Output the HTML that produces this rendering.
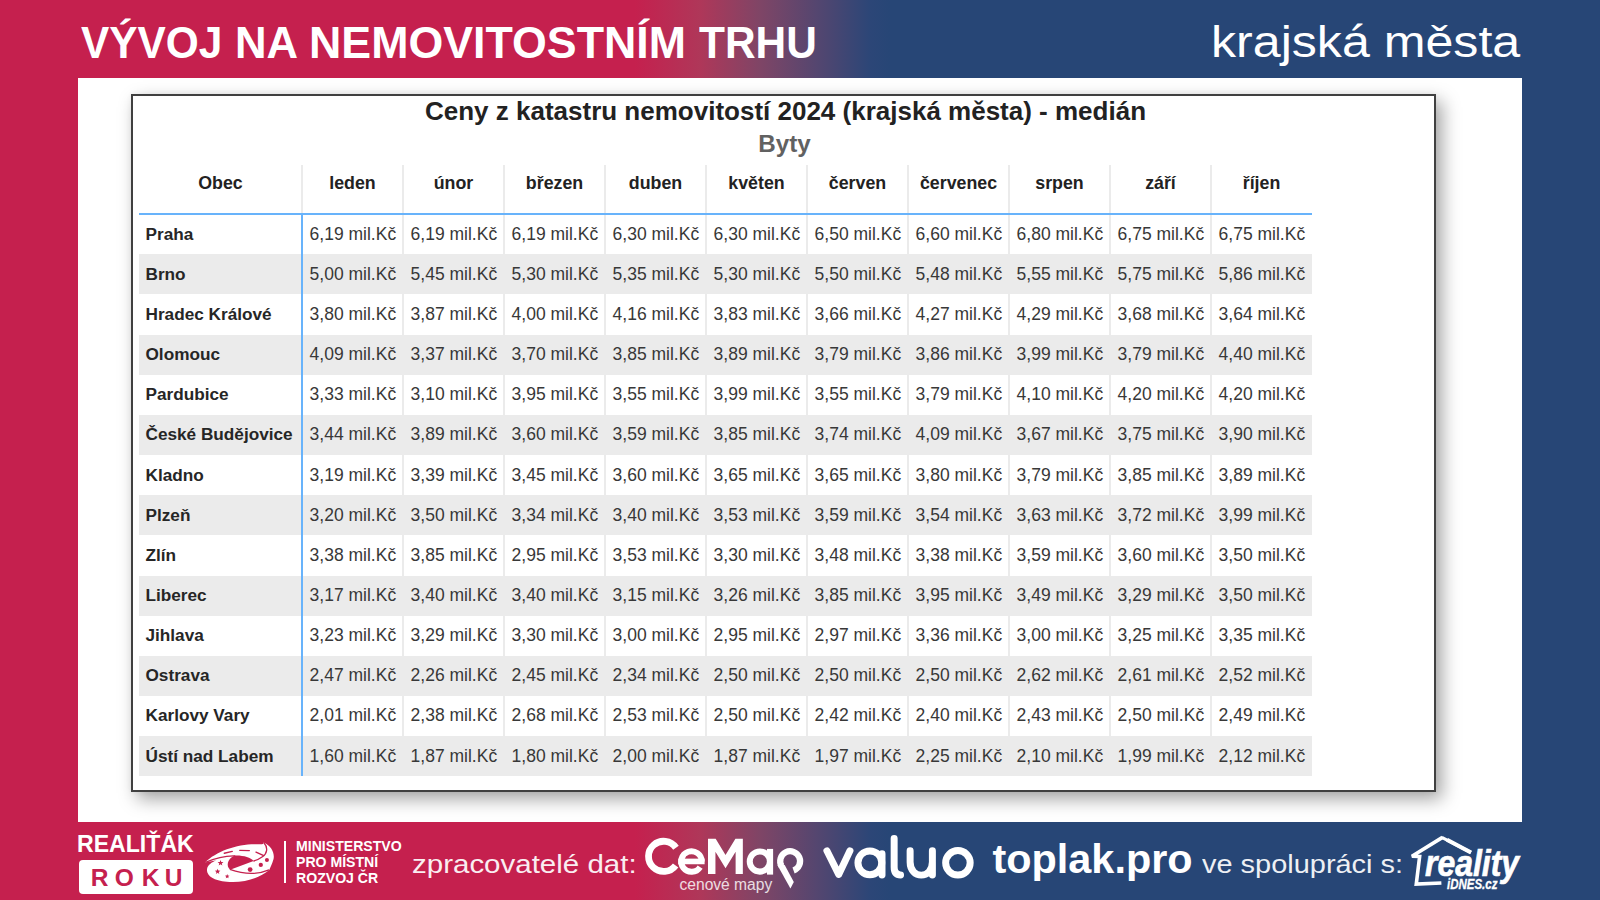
<!DOCTYPE html>
<html lang="cs">
<head>
<meta charset="utf-8">
<title>Vývoj na nemovitostním trhu</title>
<style>
html,body{margin:0;padding:0;}
body{width:1600px;height:900px;overflow:hidden;position:relative;
  background:linear-gradient(90deg,#C5204E 0px,#C5204E 635px,#AF3759 700px,#7F4566 760px,#524670 820px,#2C4677 870px,#274676 890px,#274676 1600px);
  font-family:"Liberation Sans",sans-serif;}
.abs{position:absolute;}
.tw{position:absolute;top:15px;font-weight:bold;font-size:44px;color:#fff;white-space:nowrap;line-height:56px;transform-origin:0 0;}
#sub{position:absolute;left:1210.5px;top:12px;font-size:45px;transform:scaleX(1.114);transform-origin:0 0;color:#fff;white-space:nowrap;line-height:60px;}
#panel{position:absolute;left:78px;top:78px;width:1444px;height:744px;background:#fff;}
#frame{position:absolute;left:131px;top:94px;width:1300.5px;height:693.7px;border:2px solid #333;background:#fff;
  box-shadow:6px 7px 17px rgba(0,0,0,0.36),0 0 5px rgba(0,0,0,0.05);border-color:#404040;}
#ttl{position:absolute;left:133px;width:1305px;top:95px;text-align:center;font-weight:bold;font-size:26px;color:#222;line-height:32px;white-space:nowrap;}
#byty{position:absolute;left:132px;width:1305px;top:129px;text-align:center;font-weight:bold;font-size:24.2px;color:#616161;line-height:30px;}
.rbg{position:absolute;background:#ebebeb;}
.sep{position:absolute;width:2px;background:#ebebeb;}
.blue{position:absolute;background:#68b3fb;}
.hd{position:absolute;text-align:center;font-weight:bold;font-size:17.8px;color:#222;line-height:30px;white-space:nowrap;}
.nm{position:absolute;font-weight:bold;font-size:17.2px;color:#262626;white-space:nowrap;}
.vl{position:absolute;font-size:17.5px;color:#383838;white-space:nowrap;}
.ft{position:absolute;color:#fff;white-space:nowrap;}
.roku{position:absolute;top:861.8px;transform:translateX(-50%);line-height:32px;font-weight:bold;font-size:24.5px;color:#C5204E;}
.roku::before{content:"";}
</style>
</head>
<body>
<div class="tw" style="left:81.25px;transform:scaleX(0.964)">VÝVOJ</div><div class="tw" style="left:234.6px;transform:scaleX(0.993)">NA</div><div class="tw" style="left:308.75px;transform:scaleX(1.017)">NEMOVITOSTNÍM</div><div class="tw" style="left:698.5px;transform:scaleX(0.964)">TRHU</div>
<div id="sub">krajská města</div>
<div id="panel"></div>
<div id="frame"></div>
<div id="ttl">Ceny z katastru nemovitostí 2024 (krajská města) - medián</div>
<div id="byty">Byty</div>
<div class="rbg" style="left:139.0px;top:254.35px;width:1173.00px;height:40.15px"></div>
<div class="rbg" style="left:139.0px;top:334.65px;width:1173.00px;height:40.15px"></div>
<div class="rbg" style="left:139.0px;top:414.95px;width:1173.00px;height:40.15px"></div>
<div class="rbg" style="left:139.0px;top:495.25px;width:1173.00px;height:40.15px"></div>
<div class="rbg" style="left:139.0px;top:575.55px;width:1173.00px;height:40.15px"></div>
<div class="rbg" style="left:139.0px;top:655.85px;width:1173.00px;height:40.15px"></div>
<div class="rbg" style="left:139.0px;top:736.15px;width:1173.00px;height:40.15px"></div>
<div class="sep" style="left:402.00px;top:165.0px;height:611.30px"></div>
<div class="sep" style="left:503.00px;top:165.0px;height:611.30px"></div>
<div class="sep" style="left:604.00px;top:165.0px;height:611.30px"></div>
<div class="sep" style="left:705.00px;top:165.0px;height:611.30px"></div>
<div class="sep" style="left:806.00px;top:165.0px;height:611.30px"></div>
<div class="sep" style="left:907.00px;top:165.0px;height:611.30px"></div>
<div class="sep" style="left:1008.00px;top:165.0px;height:611.30px"></div>
<div class="sep" style="left:1109.00px;top:165.0px;height:611.30px"></div>
<div class="sep" style="left:1210.00px;top:165.0px;height:611.30px"></div>
<div class="sep" style="left:301.00px;top:165.0px;height:49.20px"></div>
<div class="blue" style="left:139.0px;top:213.20px;width:1173.00px;height:2px"></div>
<div class="blue" style="left:301.00px;top:213.20px;width:2px;height:563.10px"></div>
<div class="hd" style="left:139.0px;top:168.10px;width:163.0px">Obec</div>
<div class="hd" style="left:302.00px;top:168.10px;width:101.0px">leden</div>
<div class="hd" style="left:403.00px;top:168.10px;width:101.0px">únor</div>
<div class="hd" style="left:504.00px;top:168.10px;width:101.0px">březen</div>
<div class="hd" style="left:605.00px;top:168.10px;width:101.0px">duben</div>
<div class="hd" style="left:706.00px;top:168.10px;width:101.0px">květen</div>
<div class="hd" style="left:807.00px;top:168.10px;width:101.0px">červen</div>
<div class="hd" style="left:908.00px;top:168.10px;width:101.0px">červenec</div>
<div class="hd" style="left:1009.00px;top:168.10px;width:101.0px">srpen</div>
<div class="hd" style="left:1110.00px;top:168.10px;width:101.0px">září</div>
<div class="hd" style="left:1211.00px;top:168.10px;width:101.0px">říjen</div>
<div class="nm" style="left:145.5px;top:213.60px;height:40.15px;line-height:40.15px">Praha</div>
<div class="vl" style="left:309.60px;top:213.60px;height:40.15px;line-height:40.15px">6,19 mil.Kč</div>
<div class="vl" style="left:410.60px;top:213.60px;height:40.15px;line-height:40.15px">6,19 mil.Kč</div>
<div class="vl" style="left:511.60px;top:213.60px;height:40.15px;line-height:40.15px">6,19 mil.Kč</div>
<div class="vl" style="left:612.60px;top:213.60px;height:40.15px;line-height:40.15px">6,30 mil.Kč</div>
<div class="vl" style="left:713.60px;top:213.60px;height:40.15px;line-height:40.15px">6,30 mil.Kč</div>
<div class="vl" style="left:814.60px;top:213.60px;height:40.15px;line-height:40.15px">6,50 mil.Kč</div>
<div class="vl" style="left:915.60px;top:213.60px;height:40.15px;line-height:40.15px">6,60 mil.Kč</div>
<div class="vl" style="left:1016.60px;top:213.60px;height:40.15px;line-height:40.15px">6,80 mil.Kč</div>
<div class="vl" style="left:1117.60px;top:213.60px;height:40.15px;line-height:40.15px">6,75 mil.Kč</div>
<div class="vl" style="left:1218.60px;top:213.60px;height:40.15px;line-height:40.15px">6,75 mil.Kč</div>
<div class="nm" style="left:145.5px;top:253.75px;height:40.15px;line-height:40.15px">Brno</div>
<div class="vl" style="left:309.60px;top:253.75px;height:40.15px;line-height:40.15px">5,00 mil.Kč</div>
<div class="vl" style="left:410.60px;top:253.75px;height:40.15px;line-height:40.15px">5,45 mil.Kč</div>
<div class="vl" style="left:511.60px;top:253.75px;height:40.15px;line-height:40.15px">5,30 mil.Kč</div>
<div class="vl" style="left:612.60px;top:253.75px;height:40.15px;line-height:40.15px">5,35 mil.Kč</div>
<div class="vl" style="left:713.60px;top:253.75px;height:40.15px;line-height:40.15px">5,30 mil.Kč</div>
<div class="vl" style="left:814.60px;top:253.75px;height:40.15px;line-height:40.15px">5,50 mil.Kč</div>
<div class="vl" style="left:915.60px;top:253.75px;height:40.15px;line-height:40.15px">5,48 mil.Kč</div>
<div class="vl" style="left:1016.60px;top:253.75px;height:40.15px;line-height:40.15px">5,55 mil.Kč</div>
<div class="vl" style="left:1117.60px;top:253.75px;height:40.15px;line-height:40.15px">5,75 mil.Kč</div>
<div class="vl" style="left:1218.60px;top:253.75px;height:40.15px;line-height:40.15px">5,86 mil.Kč</div>
<div class="nm" style="left:145.5px;top:293.90px;height:40.15px;line-height:40.15px">Hradec Králové</div>
<div class="vl" style="left:309.60px;top:293.90px;height:40.15px;line-height:40.15px">3,80 mil.Kč</div>
<div class="vl" style="left:410.60px;top:293.90px;height:40.15px;line-height:40.15px">3,87 mil.Kč</div>
<div class="vl" style="left:511.60px;top:293.90px;height:40.15px;line-height:40.15px">4,00 mil.Kč</div>
<div class="vl" style="left:612.60px;top:293.90px;height:40.15px;line-height:40.15px">4,16 mil.Kč</div>
<div class="vl" style="left:713.60px;top:293.90px;height:40.15px;line-height:40.15px">3,83 mil.Kč</div>
<div class="vl" style="left:814.60px;top:293.90px;height:40.15px;line-height:40.15px">3,66 mil.Kč</div>
<div class="vl" style="left:915.60px;top:293.90px;height:40.15px;line-height:40.15px">4,27 mil.Kč</div>
<div class="vl" style="left:1016.60px;top:293.90px;height:40.15px;line-height:40.15px">4,29 mil.Kč</div>
<div class="vl" style="left:1117.60px;top:293.90px;height:40.15px;line-height:40.15px">3,68 mil.Kč</div>
<div class="vl" style="left:1218.60px;top:293.90px;height:40.15px;line-height:40.15px">3,64 mil.Kč</div>
<div class="nm" style="left:145.5px;top:334.05px;height:40.15px;line-height:40.15px">Olomouc</div>
<div class="vl" style="left:309.60px;top:334.05px;height:40.15px;line-height:40.15px">4,09 mil.Kč</div>
<div class="vl" style="left:410.60px;top:334.05px;height:40.15px;line-height:40.15px">3,37 mil.Kč</div>
<div class="vl" style="left:511.60px;top:334.05px;height:40.15px;line-height:40.15px">3,70 mil.Kč</div>
<div class="vl" style="left:612.60px;top:334.05px;height:40.15px;line-height:40.15px">3,85 mil.Kč</div>
<div class="vl" style="left:713.60px;top:334.05px;height:40.15px;line-height:40.15px">3,89 mil.Kč</div>
<div class="vl" style="left:814.60px;top:334.05px;height:40.15px;line-height:40.15px">3,79 mil.Kč</div>
<div class="vl" style="left:915.60px;top:334.05px;height:40.15px;line-height:40.15px">3,86 mil.Kč</div>
<div class="vl" style="left:1016.60px;top:334.05px;height:40.15px;line-height:40.15px">3,99 mil.Kč</div>
<div class="vl" style="left:1117.60px;top:334.05px;height:40.15px;line-height:40.15px">3,79 mil.Kč</div>
<div class="vl" style="left:1218.60px;top:334.05px;height:40.15px;line-height:40.15px">4,40 mil.Kč</div>
<div class="nm" style="left:145.5px;top:374.20px;height:40.15px;line-height:40.15px">Pardubice</div>
<div class="vl" style="left:309.60px;top:374.20px;height:40.15px;line-height:40.15px">3,33 mil.Kč</div>
<div class="vl" style="left:410.60px;top:374.20px;height:40.15px;line-height:40.15px">3,10 mil.Kč</div>
<div class="vl" style="left:511.60px;top:374.20px;height:40.15px;line-height:40.15px">3,95 mil.Kč</div>
<div class="vl" style="left:612.60px;top:374.20px;height:40.15px;line-height:40.15px">3,55 mil.Kč</div>
<div class="vl" style="left:713.60px;top:374.20px;height:40.15px;line-height:40.15px">3,99 mil.Kč</div>
<div class="vl" style="left:814.60px;top:374.20px;height:40.15px;line-height:40.15px">3,55 mil.Kč</div>
<div class="vl" style="left:915.60px;top:374.20px;height:40.15px;line-height:40.15px">3,79 mil.Kč</div>
<div class="vl" style="left:1016.60px;top:374.20px;height:40.15px;line-height:40.15px">4,10 mil.Kč</div>
<div class="vl" style="left:1117.60px;top:374.20px;height:40.15px;line-height:40.15px">4,20 mil.Kč</div>
<div class="vl" style="left:1218.60px;top:374.20px;height:40.15px;line-height:40.15px">4,20 mil.Kč</div>
<div class="nm" style="left:145.5px;top:414.35px;height:40.15px;line-height:40.15px">České Budějovice</div>
<div class="vl" style="left:309.60px;top:414.35px;height:40.15px;line-height:40.15px">3,44 mil.Kč</div>
<div class="vl" style="left:410.60px;top:414.35px;height:40.15px;line-height:40.15px">3,89 mil.Kč</div>
<div class="vl" style="left:511.60px;top:414.35px;height:40.15px;line-height:40.15px">3,60 mil.Kč</div>
<div class="vl" style="left:612.60px;top:414.35px;height:40.15px;line-height:40.15px">3,59 mil.Kč</div>
<div class="vl" style="left:713.60px;top:414.35px;height:40.15px;line-height:40.15px">3,85 mil.Kč</div>
<div class="vl" style="left:814.60px;top:414.35px;height:40.15px;line-height:40.15px">3,74 mil.Kč</div>
<div class="vl" style="left:915.60px;top:414.35px;height:40.15px;line-height:40.15px">4,09 mil.Kč</div>
<div class="vl" style="left:1016.60px;top:414.35px;height:40.15px;line-height:40.15px">3,67 mil.Kč</div>
<div class="vl" style="left:1117.60px;top:414.35px;height:40.15px;line-height:40.15px">3,75 mil.Kč</div>
<div class="vl" style="left:1218.60px;top:414.35px;height:40.15px;line-height:40.15px">3,90 mil.Kč</div>
<div class="nm" style="left:145.5px;top:454.50px;height:40.15px;line-height:40.15px">Kladno</div>
<div class="vl" style="left:309.60px;top:454.50px;height:40.15px;line-height:40.15px">3,19 mil.Kč</div>
<div class="vl" style="left:410.60px;top:454.50px;height:40.15px;line-height:40.15px">3,39 mil.Kč</div>
<div class="vl" style="left:511.60px;top:454.50px;height:40.15px;line-height:40.15px">3,45 mil.Kč</div>
<div class="vl" style="left:612.60px;top:454.50px;height:40.15px;line-height:40.15px">3,60 mil.Kč</div>
<div class="vl" style="left:713.60px;top:454.50px;height:40.15px;line-height:40.15px">3,65 mil.Kč</div>
<div class="vl" style="left:814.60px;top:454.50px;height:40.15px;line-height:40.15px">3,65 mil.Kč</div>
<div class="vl" style="left:915.60px;top:454.50px;height:40.15px;line-height:40.15px">3,80 mil.Kč</div>
<div class="vl" style="left:1016.60px;top:454.50px;height:40.15px;line-height:40.15px">3,79 mil.Kč</div>
<div class="vl" style="left:1117.60px;top:454.50px;height:40.15px;line-height:40.15px">3,85 mil.Kč</div>
<div class="vl" style="left:1218.60px;top:454.50px;height:40.15px;line-height:40.15px">3,89 mil.Kč</div>
<div class="nm" style="left:145.5px;top:494.65px;height:40.15px;line-height:40.15px">Plzeň</div>
<div class="vl" style="left:309.60px;top:494.65px;height:40.15px;line-height:40.15px">3,20 mil.Kč</div>
<div class="vl" style="left:410.60px;top:494.65px;height:40.15px;line-height:40.15px">3,50 mil.Kč</div>
<div class="vl" style="left:511.60px;top:494.65px;height:40.15px;line-height:40.15px">3,34 mil.Kč</div>
<div class="vl" style="left:612.60px;top:494.65px;height:40.15px;line-height:40.15px">3,40 mil.Kč</div>
<div class="vl" style="left:713.60px;top:494.65px;height:40.15px;line-height:40.15px">3,53 mil.Kč</div>
<div class="vl" style="left:814.60px;top:494.65px;height:40.15px;line-height:40.15px">3,59 mil.Kč</div>
<div class="vl" style="left:915.60px;top:494.65px;height:40.15px;line-height:40.15px">3,54 mil.Kč</div>
<div class="vl" style="left:1016.60px;top:494.65px;height:40.15px;line-height:40.15px">3,63 mil.Kč</div>
<div class="vl" style="left:1117.60px;top:494.65px;height:40.15px;line-height:40.15px">3,72 mil.Kč</div>
<div class="vl" style="left:1218.60px;top:494.65px;height:40.15px;line-height:40.15px">3,99 mil.Kč</div>
<div class="nm" style="left:145.5px;top:534.80px;height:40.15px;line-height:40.15px">Zlín</div>
<div class="vl" style="left:309.60px;top:534.80px;height:40.15px;line-height:40.15px">3,38 mil.Kč</div>
<div class="vl" style="left:410.60px;top:534.80px;height:40.15px;line-height:40.15px">3,85 mil.Kč</div>
<div class="vl" style="left:511.60px;top:534.80px;height:40.15px;line-height:40.15px">2,95 mil.Kč</div>
<div class="vl" style="left:612.60px;top:534.80px;height:40.15px;line-height:40.15px">3,53 mil.Kč</div>
<div class="vl" style="left:713.60px;top:534.80px;height:40.15px;line-height:40.15px">3,30 mil.Kč</div>
<div class="vl" style="left:814.60px;top:534.80px;height:40.15px;line-height:40.15px">3,48 mil.Kč</div>
<div class="vl" style="left:915.60px;top:534.80px;height:40.15px;line-height:40.15px">3,38 mil.Kč</div>
<div class="vl" style="left:1016.60px;top:534.80px;height:40.15px;line-height:40.15px">3,59 mil.Kč</div>
<div class="vl" style="left:1117.60px;top:534.80px;height:40.15px;line-height:40.15px">3,60 mil.Kč</div>
<div class="vl" style="left:1218.60px;top:534.80px;height:40.15px;line-height:40.15px">3,50 mil.Kč</div>
<div class="nm" style="left:145.5px;top:574.95px;height:40.15px;line-height:40.15px">Liberec</div>
<div class="vl" style="left:309.60px;top:574.95px;height:40.15px;line-height:40.15px">3,17 mil.Kč</div>
<div class="vl" style="left:410.60px;top:574.95px;height:40.15px;line-height:40.15px">3,40 mil.Kč</div>
<div class="vl" style="left:511.60px;top:574.95px;height:40.15px;line-height:40.15px">3,40 mil.Kč</div>
<div class="vl" style="left:612.60px;top:574.95px;height:40.15px;line-height:40.15px">3,15 mil.Kč</div>
<div class="vl" style="left:713.60px;top:574.95px;height:40.15px;line-height:40.15px">3,26 mil.Kč</div>
<div class="vl" style="left:814.60px;top:574.95px;height:40.15px;line-height:40.15px">3,85 mil.Kč</div>
<div class="vl" style="left:915.60px;top:574.95px;height:40.15px;line-height:40.15px">3,95 mil.Kč</div>
<div class="vl" style="left:1016.60px;top:574.95px;height:40.15px;line-height:40.15px">3,49 mil.Kč</div>
<div class="vl" style="left:1117.60px;top:574.95px;height:40.15px;line-height:40.15px">3,29 mil.Kč</div>
<div class="vl" style="left:1218.60px;top:574.95px;height:40.15px;line-height:40.15px">3,50 mil.Kč</div>
<div class="nm" style="left:145.5px;top:615.10px;height:40.15px;line-height:40.15px">Jihlava</div>
<div class="vl" style="left:309.60px;top:615.10px;height:40.15px;line-height:40.15px">3,23 mil.Kč</div>
<div class="vl" style="left:410.60px;top:615.10px;height:40.15px;line-height:40.15px">3,29 mil.Kč</div>
<div class="vl" style="left:511.60px;top:615.10px;height:40.15px;line-height:40.15px">3,30 mil.Kč</div>
<div class="vl" style="left:612.60px;top:615.10px;height:40.15px;line-height:40.15px">3,00 mil.Kč</div>
<div class="vl" style="left:713.60px;top:615.10px;height:40.15px;line-height:40.15px">2,95 mil.Kč</div>
<div class="vl" style="left:814.60px;top:615.10px;height:40.15px;line-height:40.15px">2,97 mil.Kč</div>
<div class="vl" style="left:915.60px;top:615.10px;height:40.15px;line-height:40.15px">3,36 mil.Kč</div>
<div class="vl" style="left:1016.60px;top:615.10px;height:40.15px;line-height:40.15px">3,00 mil.Kč</div>
<div class="vl" style="left:1117.60px;top:615.10px;height:40.15px;line-height:40.15px">3,25 mil.Kč</div>
<div class="vl" style="left:1218.60px;top:615.10px;height:40.15px;line-height:40.15px">3,35 mil.Kč</div>
<div class="nm" style="left:145.5px;top:655.25px;height:40.15px;line-height:40.15px">Ostrava</div>
<div class="vl" style="left:309.60px;top:655.25px;height:40.15px;line-height:40.15px">2,47 mil.Kč</div>
<div class="vl" style="left:410.60px;top:655.25px;height:40.15px;line-height:40.15px">2,26 mil.Kč</div>
<div class="vl" style="left:511.60px;top:655.25px;height:40.15px;line-height:40.15px">2,45 mil.Kč</div>
<div class="vl" style="left:612.60px;top:655.25px;height:40.15px;line-height:40.15px">2,34 mil.Kč</div>
<div class="vl" style="left:713.60px;top:655.25px;height:40.15px;line-height:40.15px">2,50 mil.Kč</div>
<div class="vl" style="left:814.60px;top:655.25px;height:40.15px;line-height:40.15px">2,50 mil.Kč</div>
<div class="vl" style="left:915.60px;top:655.25px;height:40.15px;line-height:40.15px">2,50 mil.Kč</div>
<div class="vl" style="left:1016.60px;top:655.25px;height:40.15px;line-height:40.15px">2,62 mil.Kč</div>
<div class="vl" style="left:1117.60px;top:655.25px;height:40.15px;line-height:40.15px">2,61 mil.Kč</div>
<div class="vl" style="left:1218.60px;top:655.25px;height:40.15px;line-height:40.15px">2,52 mil.Kč</div>
<div class="nm" style="left:145.5px;top:695.40px;height:40.15px;line-height:40.15px">Karlovy Vary</div>
<div class="vl" style="left:309.60px;top:695.40px;height:40.15px;line-height:40.15px">2,01 mil.Kč</div>
<div class="vl" style="left:410.60px;top:695.40px;height:40.15px;line-height:40.15px">2,38 mil.Kč</div>
<div class="vl" style="left:511.60px;top:695.40px;height:40.15px;line-height:40.15px">2,68 mil.Kč</div>
<div class="vl" style="left:612.60px;top:695.40px;height:40.15px;line-height:40.15px">2,53 mil.Kč</div>
<div class="vl" style="left:713.60px;top:695.40px;height:40.15px;line-height:40.15px">2,50 mil.Kč</div>
<div class="vl" style="left:814.60px;top:695.40px;height:40.15px;line-height:40.15px">2,42 mil.Kč</div>
<div class="vl" style="left:915.60px;top:695.40px;height:40.15px;line-height:40.15px">2,40 mil.Kč</div>
<div class="vl" style="left:1016.60px;top:695.40px;height:40.15px;line-height:40.15px">2,43 mil.Kč</div>
<div class="vl" style="left:1117.60px;top:695.40px;height:40.15px;line-height:40.15px">2,50 mil.Kč</div>
<div class="vl" style="left:1218.60px;top:695.40px;height:40.15px;line-height:40.15px">2,49 mil.Kč</div>
<div class="nm" style="left:145.5px;top:735.55px;height:40.15px;line-height:40.15px">Ústí nad Labem</div>
<div class="vl" style="left:309.60px;top:735.55px;height:40.15px;line-height:40.15px">1,60 mil.Kč</div>
<div class="vl" style="left:410.60px;top:735.55px;height:40.15px;line-height:40.15px">1,87 mil.Kč</div>
<div class="vl" style="left:511.60px;top:735.55px;height:40.15px;line-height:40.15px">1,80 mil.Kč</div>
<div class="vl" style="left:612.60px;top:735.55px;height:40.15px;line-height:40.15px">2,00 mil.Kč</div>
<div class="vl" style="left:713.60px;top:735.55px;height:40.15px;line-height:40.15px">1,87 mil.Kč</div>
<div class="vl" style="left:814.60px;top:735.55px;height:40.15px;line-height:40.15px">1,97 mil.Kč</div>
<div class="vl" style="left:915.60px;top:735.55px;height:40.15px;line-height:40.15px">2,25 mil.Kč</div>
<div class="vl" style="left:1016.60px;top:735.55px;height:40.15px;line-height:40.15px">2,10 mil.Kč</div>
<div class="vl" style="left:1117.60px;top:735.55px;height:40.15px;line-height:40.15px">1,99 mil.Kč</div>
<div class="vl" style="left:1218.60px;top:735.55px;height:40.15px;line-height:40.15px">2,12 mil.Kč</div>
<!-- footer -->
<div class="ft" style="left:77px;top:828.5px;font-weight:bold;font-size:23.1px;line-height:30px;">REALIŤÁK</div>
<div class="abs" style="left:79.3px;top:859.6px;width:113.7px;height:34px;background:#fff;border-radius:4px;"></div>
<div class="roku" style="left:99.6px">R</div><div class="roku" style="left:124.4px">O</div><div class="roku" style="left:150.6px">K</div><div class="roku" style="left:173.7px">U</div>
<svg class="abs" style="left:200px;top:838px" width="80" height="48" viewBox="0 0 1500 900">
 <path fill="#fff" d="M95 460 C 300 250, 700 108, 1060 116 C 1150 120, 1190 128, 1195 84 C 1340 150, 1405 280, 1378 400 C 1352 500, 1312 560, 1298 602 C 1100 765, 800 845, 500 818 C 250 795, 112 700, 132 580 C 145 510, 215 455, 310 418 Z"/>
 <g fill="#C5204E">
  <path d="M650 330 C 800 322, 950 365, 1005 432 L 565 594 C 490 540, 500 400, 650 330 Z"/>
  <path d="M385.0 412.0 L 399.3 450.3 L 440.2 452.1 L 408.2 477.5 L 419.1 516.9 L 385.0 494.4 L 350.9 516.9 L 361.8 477.5 L 329.8 452.1 L 370.7 450.3 Z"/><path d="M330.0 575.0 L 343.6 611.3 L 382.3 613.0 L 352.0 637.1 L 362.3 674.5 L 330.0 653.1 L 297.7 674.5 L 308.0 637.1 L 277.7 613.0 L 316.4 611.3 Z"/><path d="M510.0 675.0 L 521.1 704.7 L 552.8 706.1 L 528.0 725.8 L 536.5 756.4 L 510.0 738.9 L 483.5 756.4 L 492.0 725.8 L 467.2 706.1 L 498.9 704.7 Z"/>
  <circle cx="1255" cy="412" r="38"/><circle cx="1140" cy="505" r="40"/><circle cx="940" cy="592" r="45"/>
 </g>
 <g fill="none" stroke="#C5204E" stroke-width="24">
  <path d="M100 458 C 300 370, 500 330, 660 335"/>
  <path d="M1198 90 C 1280 180, 1262 290, 1170 350 C 1100 400, 1050 420, 1000 432"/>
  <path d="M1295 598 C 1100 680, 850 690, 560 590"/>
 </g>
 <g fill="none" stroke="#C5204E" stroke-width="26" stroke-linecap="round">
  <path d="M455 285 L 605 252"/><path d="M745 232 L 925 236"/><path d="M1050 265 L 1185 328"/>
 </g>
</svg>
<div class="abs" style="left:284px;top:841px;width:2px;height:42px;background:#fff;"></div>
<div class="ft" style="left:296px;top:837.8px;font-weight:bold;font-size:14.1px;line-height:16px;">MINISTERSTVO<br>PRO MÍSTNÍ<br>ROZVOJ ČR</div>
<div class="ft" style="left:412px;top:845.6px;font-size:26.5px;line-height:36px;transform:scaleX(1.113);transform-origin:0 0;opacity:0.92;">zpracovatelé dat:</div>
<svg class="abs" style="left:640px;top:830px" width="170" height="65" viewBox="0 0 1600 612">
 <g fill="none" stroke="#fff">
  <path d="M338.3 166.6 A 142 142 0 1 0 335.4 333.5" stroke-width="64"/>
  <path d="M360 296 L 608 296" stroke-width="53"/>
  <path d="M581.6 296.4 A 97 97 0 1 0 566 349.3" stroke-width="56"/>
  <circle cx="1128" cy="297" r="95" stroke-width="57"/>
  <path d="M1224 178 L 1224 420" stroke-width="58"/>
  <path d="M1445.4 381.6 A 93.6 93.6 0 1 0 1332.3 340.4" stroke-width="59"/>
 </g>
 <g fill="#fff">
  <path d="M640 82 L 712 82 L 805 235 L 898 82 L 968 82 L 968 415 L 900 415 L 900 204 L 805 360 L 710 204 L 710 415 L 640 415 Z"/>
  <path d="M1293 330 L 1362 330 L 1448 490 L 1416 550 Z"/>
 </g>
</svg>
<div class="ft" style="left:679.5px;top:874.5px;font-size:15.6px;line-height:20px;opacity:0.82;">cenové mapy</div>
<svg class="abs" style="left:810px;top:830px" width="180" height="65" viewBox="0 0 1600 578">
 <g fill="none" stroke="#fff" stroke-width="62" stroke-linecap="round" stroke-linejoin="round">
  <path d="M150 185 L 255 395 L 355 185"/>
  <circle cx="532" cy="292" r="106"/>
  <path d="M640 212 L 640 400"/>
  <path d="M748 75 L 748 330 Q 748 400 805 400"/>
  <path d="M890 185 L 890 285 C 890 440 1088 440 1088 285 M 1088 185 L 1088 400"/>
  <circle cx="1315" cy="292" r="109"/>
 </g>
</svg>
<div class="ft" style="left:992.5px;top:834px;font-weight:bold;font-size:41.4px;line-height:50px;">toplak.pro</div>
<div class="ft" style="left:1202px;top:845.6px;font-size:26.5px;line-height:36px;transform:scaleX(1.092);transform-origin:0 0;opacity:0.92;">ve spolupráci s:</div>
<svg class="abs" style="left:1405px;top:830px" width="120" height="65" viewBox="0 0 1600 867">
 <g fill="none" stroke="#fff" stroke-width="48">
  <path d="M490 98 L 880 300" stroke-width="42"/>
  <path d="M880 300 L 560 130" stroke-width="55"/>
  <path d="M500 98 L 92 350 L 195 352 L 150 722 L 485 706" stroke-linejoin="miter" stroke-miterlimit="2"/>
 </g>
</svg>
<div class="ft" style="left:1424.5px;top:841px;font-weight:bold;font-style:italic;font-size:37.6px;line-height:44px;transform:scaleX(0.85);transform-origin:0 0;-webkit-text-stroke:0.7px #fff;">reality</div>
<div class="ft" style="left:1446.5px;top:875px;font-weight:bold;font-style:italic;font-size:14px;-webkit-text-stroke:0.3px #fff;line-height:18px;transform:scaleX(0.82);transform-origin:0 0;">iDNES.cz</div>
</body>
</html>
